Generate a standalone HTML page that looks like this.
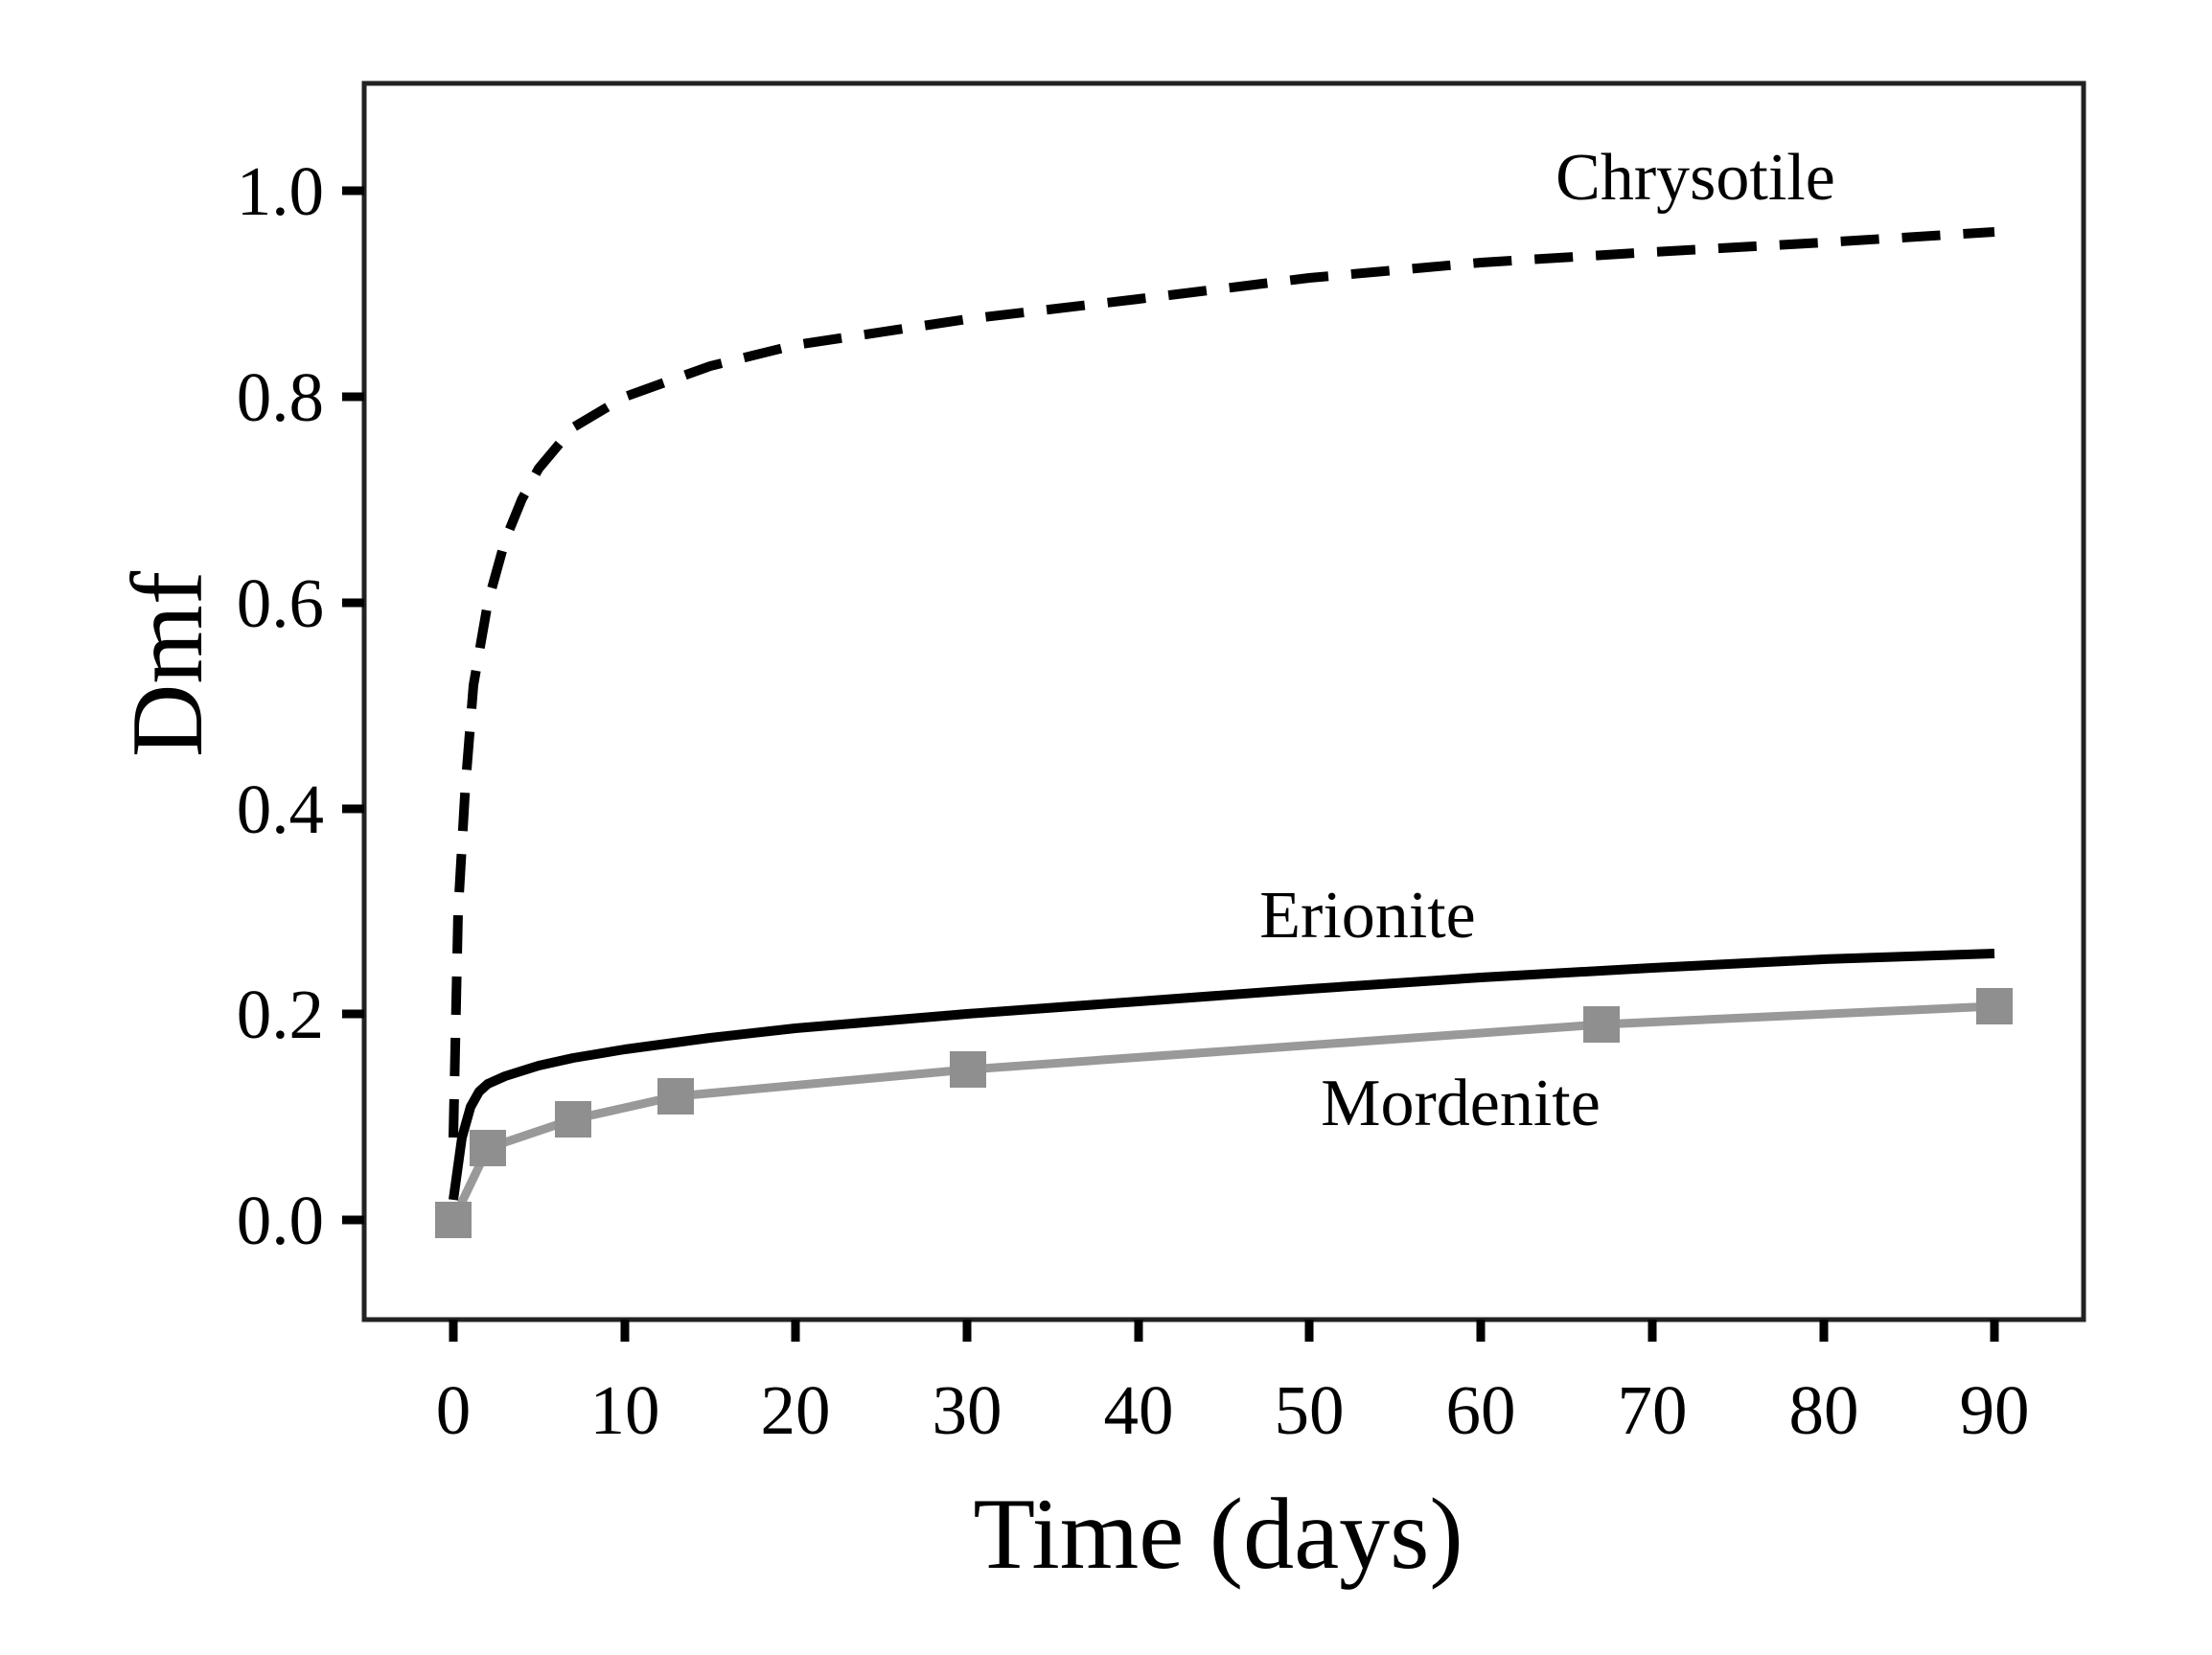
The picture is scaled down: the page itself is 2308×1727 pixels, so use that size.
<!DOCTYPE html>
<html><head><meta charset="utf-8"><style>
html,body{margin:0;padding:0;background:#fff}
svg{display:block}
text{font-family:"Liberation Serif",serif;fill:#000}
</style></head><body>
<svg width="2308" height="1727" viewBox="0 0 2308 1727" xmlns="http://www.w3.org/2000/svg">
<rect x="380" y="87" width="1794" height="1290" fill="none" stroke="#222" stroke-width="5"/>
<g stroke="#000" stroke-width="9">
<line x1="473" y1="1377" x2="473" y2="1400"/>
<line x1="652" y1="1377" x2="652" y2="1400"/>
<line x1="830" y1="1377" x2="830" y2="1400"/>
<line x1="1009" y1="1377" x2="1009" y2="1400"/>
<line x1="1188" y1="1377" x2="1188" y2="1400"/>
<line x1="1366" y1="1377" x2="1366" y2="1400"/>
<line x1="1545" y1="1377" x2="1545" y2="1400"/>
<line x1="1724" y1="1377" x2="1724" y2="1400"/>
<line x1="1903" y1="1377" x2="1903" y2="1400"/>
<line x1="2081" y1="1377" x2="2081" y2="1400"/>
<line x1="357" y1="1273" x2="380" y2="1273"/>
<line x1="357" y1="1058" x2="380" y2="1058"/>
<line x1="357" y1="844" x2="380" y2="844"/>
<line x1="357" y1="629" x2="380" y2="629"/>
<line x1="357" y1="414" x2="380" y2="414"/>
<line x1="357" y1="199" x2="380" y2="199"/>
</g>
<g font-size="73" text-anchor="middle">
<text x="473" y="1496">0</text>
<text x="652" y="1496">10</text>
<text x="830" y="1496">20</text>
<text x="1009" y="1496">30</text>
<text x="1188" y="1496">40</text>
<text x="1366" y="1496">50</text>
<text x="1545" y="1496">60</text>
<text x="1724" y="1496">70</text>
<text x="1903" y="1496">80</text>
<text x="2081" y="1496">90</text>
</g>
<g font-size="73" text-anchor="end">
<text x="338" y="1298">0.0</text>
<text x="338" y="1083">0.2</text>
<text x="338" y="869">0.4</text>
<text x="338" y="654">0.6</text>
<text x="338" y="439">0.8</text>
<text x="338" y="224">1.0</text>
</g>
<text x="1271" y="1636" font-size="106" text-anchor="middle">Time (days)</text>
<text transform="translate(210,693) rotate(-90)" font-size="106" text-anchor="middle">Dmf</text>
<polyline fill="none" stroke="#000" stroke-width="10" stroke-dasharray="40,24" points="473,1187 478,951 485.5,822 494,715 509,629 527,564 544.5,521 562,489 598,446 652,414 741,382 830,360 1009,333 1188,312 1366,290 1545,274 1724,263 1903,253 2081,242"/>
<polyline fill="none" stroke="#000" stroke-width="10" stroke-linejoin="round" points="473,1252 482,1187 491,1155 500,1139 509,1131 527,1123 562,1112 598,1104 652,1095 741,1083 830,1073 1009,1058 1188,1045 1366,1032 1545,1020 1724,1010 1903,1001 2081,995"/>
<polyline fill="none" stroke="#999" stroke-width="9" stroke-linejoin="round" points="473,1273 509,1198 598,1168 705,1144 1010,1116 1671,1069 2081,1050"/>
<g fill="#8f8f8f">
<rect x="454" y="1254" width="38" height="38"/>
<rect x="490" y="1179" width="38" height="38"/>
<rect x="579" y="1149" width="38" height="38"/>
<rect x="686" y="1125" width="38" height="38"/>
<rect x="991" y="1097" width="38" height="38"/>
<rect x="1652" y="1050" width="38" height="38"/>
<rect x="2062" y="1031" width="38" height="38"/>
</g>
<g font-size="70" text-anchor="middle">
<text x="1769" y="208">Chrysotile</text>
<text x="1427" y="978">Erionite</text>
<text x="1524" y="1174">Mordenite</text>
</g>
</svg>
</body></html>
